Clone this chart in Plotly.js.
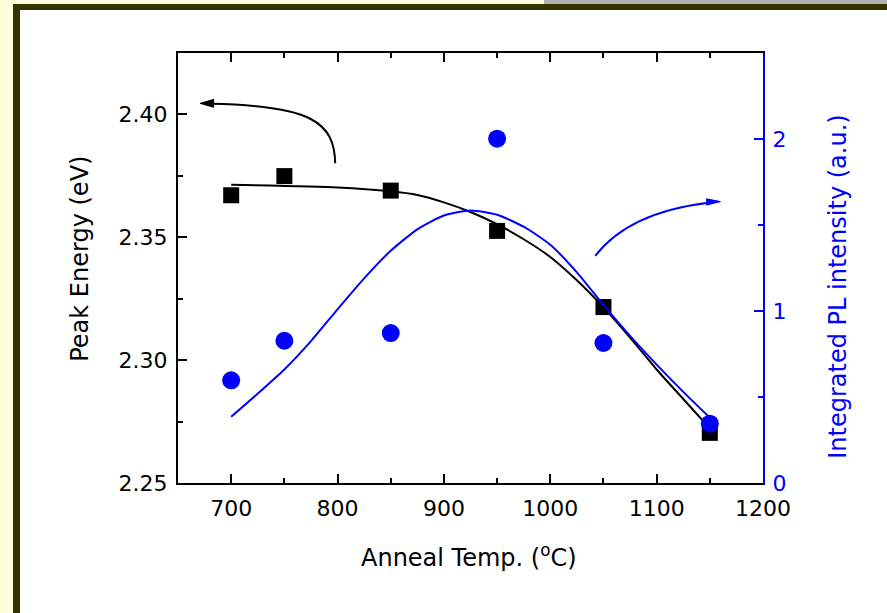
<!DOCTYPE html>
<html>
<head>
<meta charset="utf-8">
<script src="https://cdn.plot.ly/plotly-3.0.1.min.js"></script>
<style>
  html, body { margin: 0; padding: 0; }
  body { width: 887px; height: 613px; position: relative; overflow: hidden; background: #FFFFDD; }
  #topgray { position: absolute; left: 544px; top: 0; width: 343px; height: 4px; background: #B2B2B2; }
  #frame { position: absolute; left: 13px; top: 4px; width: 874px; height: 609px; background: #333300; }
  #inner { position: absolute; left: 20px; top: 10px; width: 867px; height: 603px; background: #FFFFFF; }
  #chart { position: absolute; left: 0; top: 0; width: 887px; height: 613px; }
</style>
</head>
<body>
<div id="topgray"></div>
<div id="frame"></div>
<div id="inner"></div>
<div id="chart"></div>
<script>
// Measured data
const tempX = [700, 750, 850, 950, 1050, 1150];
const peakEnergy = [2.3671, 2.3749, 2.3690, 2.3526, 2.3216, 2.2704];
const plIntensity = [0.597, 0.827, 0.872, 2.002, 0.814, 0.345];

// Fit curves
const energyFitX = [700, 800, 850, 875, 900, 925, 950, 975, 1000, 1025, 1050, 1075, 1100, 1125, 1150];
const energyFitY = [2.3714, 2.3703, 2.3687, 2.3672, 2.3642, 2.3603, 2.3553, 2.3492, 2.3420, 2.3325, 2.3215, 2.3092, 2.2962, 2.2842, 2.2722];
const plFitX = [700, 725, 750, 775, 800, 825, 850, 875, 900, 925, 950, 975, 1000, 1025, 1050, 1075, 1100, 1125, 1150];
const plFitY = [0.385, 0.520, 0.660, 0.825, 1.010, 1.190, 1.350, 1.475, 1.555, 1.585, 1.560, 1.490, 1.385, 1.225, 1.035, 0.855, 0.688, 0.530, 0.380];

const xTicks = [700, 800, 900, 1000, 1100, 1200];
const yTicks = [2.25, 2.30, 2.35, 2.40];
const y2Ticks = [0, 1, 2];

const xTitle = 'Anneal Temp. (<sup>o</sup>C)';
const yTitle = 'Peak Energy (eV)';
const y2Title = 'Integrated PL intensity (a.u.)';

const FONT = 'DejaVu Sans, sans-serif';
const BLUE = '#0000FF';

const traces = [
  {x: energyFitX, y: energyFitY, mode: 'lines', line: {color: '#000', width: 2, shape: 'spline', smoothing: 0.6}, yaxis: 'y', hoverinfo: 'skip'},
  {x: plFitX, y: plFitY, mode: 'lines', line: {color: BLUE, width: 2, shape: 'spline', smoothing: 0.6}, yaxis: 'y2', hoverinfo: 'skip'},
  {x: tempX, y: peakEnergy, mode: 'markers', marker: {symbol: 'square', size: 16, color: '#000'}, yaxis: 'y'},
  {x: tempX, y: plIntensity, mode: 'markers', marker: {symbol: 'circle', size: 18, color: BLUE}, yaxis: 'y2'}
];

// plot area in pixels: left 178, right 763, top 53, bottom 483.5
const PL = 178, PW = 585, PB = 483.5, PH = 430.5;
const px = v => (v - PL) / PW;
const py = v => (PB - v) / PH;

const layout = {
  width: 887, height: 613,
  paper_bgcolor: 'rgba(0,0,0,0)', plot_bgcolor: 'rgba(0,0,0,0)',
  showlegend: false,
  margin: {l: 178, r: 124, t: 53, b: 129.5, pad: 0},
  font: {family: FONT, size: 22, color: '#000'},
  xaxis: {
    range: [650, 1200], tickvals: xTicks, ticktext: xTicks.map(String),
    showgrid: false, zeroline: false,
    showline: true, linecolor: '#000', linewidth: 2, mirror: 'ticks',
    ticks: 'inside', ticklen: 9, tickwidth: 2, tickcolor: '#000',
    minor: {tickvals: [650, 750, 850, 950, 1050, 1150], ticks: 'inside', ticklen: 5, tickwidth: 2, tickcolor: '#000'},
    tickfont: {size: 22, family: FONT}, ticklabelstandoff: 5
  },
  yaxis: {
    range: [2.25, 2.425], tickvals: yTicks, ticktext: yTicks.map(v => v.toFixed(2)),
    showgrid: false, zeroline: false,
    showline: true, linecolor: '#000', linewidth: 2,
    ticks: 'inside', ticklen: 9, tickwidth: 2, tickcolor: '#000',
    minor: {tickvals: [2.275, 2.325, 2.375, 2.425], ticks: 'inside', ticklen: 5, tickwidth: 2, tickcolor: '#000'},
    tickfont: {size: 22, family: FONT}, ticklabelstandoff: 4
  },
  yaxis2: {
    range: [0, 2.5], overlaying: 'y', side: 'right', anchor: 'x',
    tickvals: y2Ticks, ticktext: y2Ticks.map(String),
    showgrid: false, zeroline: false,
    showline: true, linecolor: BLUE, linewidth: 2,
    ticks: 'inside', ticklen: 9, tickwidth: 2, tickcolor: BLUE,
    minor: {tickvals: [0.5, 1.5], ticks: 'inside', ticklen: 5, tickwidth: 2, tickcolor: BLUE},
    tickfont: {size: 22, family: FONT, color: BLUE}, ticklabelstandoff: 3
  },
  annotations: [
    {text: xTitle, xref: 'paper', yref: 'paper', x: px(469), y: py(557), xanchor: 'center', yanchor: 'middle', showarrow: false, font: {size: 24, family: FONT, color: '#000'}},
    {text: yTitle, xref: 'paper', yref: 'paper', x: px(80), y: py(259), xanchor: 'center', yanchor: 'middle', textangle: -90, showarrow: false, font: {size: 24, family: FONT, color: '#000'}},
    {text: y2Title, xref: 'paper', yref: 'paper', x: px(838), y: py(287), xanchor: 'center', yanchor: 'middle', textangle: -90, showarrow: false, font: {size: 24, family: FONT, color: BLUE}}
  ],
  shapes: [
    // black curved arrow (pointing to left axis)
    {type: 'path', xref: 'x', yref: 'y', path: 'M 797.8,2.3801 C 797,2.397 775,2.4035 681,2.4043', line: {color: '#000', width: 2}},
    {type: 'path', xref: 'x', yref: 'y', path: 'M 670.8,2.4045 L 683.5,2.4029 L 683.5,2.4061 Z', fillcolor: '#000', line: {color: '#000', width: 1}},
    // blue curved arrow (pointing to right axis)
    {type: 'path', xref: 'x', yref: 'y2', path: 'M 1042.3,1.321 C 1062,1.48 1095,1.59 1149,1.630', line: {color: BLUE, width: 2}},
    {type: 'path', xref: 'x', yref: 'y2', path: 'M 1160,1.636 L 1147,1.616 L 1147,1.652 Z', fillcolor: BLUE, line: {color: BLUE, width: 1}}
  ]
};

Plotly.newPlot('chart', traces, layout, {displayModeBar: false, staticPlot: true});
</script>
</body>
</html>
